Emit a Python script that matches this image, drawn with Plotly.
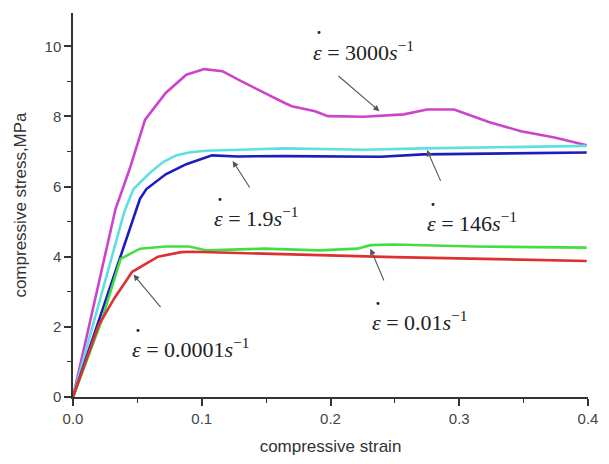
import plotly.graph_objects as go

# ---- data ----
x_3000 = [0, 0.033, 0.044, 0.056, 0.072, 0.088, 0.102, 0.116, 0.131, 0.143, 0.164, 0.170, 0.188, 0.198,
          0.226, 0.257, 0.275, 0.296, 0.323, 0.348, 0.374, 0.399]
y_3000 = [0, 5.36, 6.50, 7.91, 8.67, 9.19, 9.35, 9.29, 9.00, 8.77, 8.39, 8.29, 8.15, 8.01,
          7.99, 8.06, 8.20, 8.20, 7.84, 7.58, 7.40, 7.18]

x_146 = [0, 0.040, 0.047, 0.060, 0.070, 0.080, 0.090, 0.103, 0.164, 0.226, 0.272, 0.302, 0.399]
y_146 = [0, 5.30, 5.93, 6.40, 6.70, 6.89, 6.97, 7.02, 7.09, 7.05, 7.09, 7.11, 7.16]

x_19 = [0, 0.052, 0.057, 0.072, 0.088, 0.108, 0.128, 0.164, 0.239, 0.272, 0.399]
y_19 = [0, 5.65, 5.93, 6.35, 6.64, 6.89, 6.86, 6.87, 6.85, 6.92, 6.97]

x_001 = [0, 0.022, 0.037, 0.052, 0.072, 0.090, 0.104, 0.148, 0.191, 0.221, 0.231, 0.249, 0.312, 0.399]
y_001 = [0, 2.15, 3.94, 4.23, 4.29, 4.29, 4.18, 4.23, 4.18, 4.23, 4.33, 4.35, 4.29, 4.26]

x_00001 = [0, 0.020, 0.032, 0.046, 0.066, 0.084, 0.093, 0.150, 0.249, 0.399]
y_00001 = [0, 2.05, 2.81, 3.57, 4.00, 4.13, 4.14, 4.08, 3.99, 3.88]

labels = ["3000", "146", "1.9", "0.01", "0.0001"]
# label left edge / vertical centre and arrow tail -> tip, in data units
label_pos = [(0.1851, 9.87), (0.2735, 4.99), (0.1082, 5.13), (0.2309, 2.16), (0.0442, 1.39)]
arrow_tail = [(0.205, 9.19), (0.286, 6.12), (0.138, 5.93), (0.242, 3.28), (0.069, 2.52)]
arrow_tip = [(0.238, 8.15), (0.275, 7.04), (0.124, 6.73), (0.231, 4.23), (0.047, 3.49)]

x_ticks = [0.0, 0.1, 0.2, 0.3, 0.4]
y_ticks = [0, 2, 4, 6, 8, 10]

series = [
    (x_3000, y_3000, "#cc44cc"),
    (x_146, y_146, "#5fe0e0"),
    (x_19, y_19, "#1c1cc0"),
    (x_001, y_001, "#44dd44"),
    (x_00001, y_00001, "#dd3030"),
]

# layout geometry (px) used to offset the "dot" of epsilon-dot
L, R, T, B, W, H = 73, 11, 13, 65, 609, 464
XR, YR = (0, 0.4), (0, 10.95)
px_x = (XR[1] - XR[0]) / (W - L - R)
px_y = (YR[1] - YR[0]) / (H - T - B)

fig = go.Figure()
for xs, ys, c in series:
    fig.add_trace(go.Scatter(x=xs, y=ys, mode="lines", line=dict(color=c, width=2.6),
                             showlegend=False, hoverinfo="skip"))

anns = []
for lab, (lx, ly), (tx, ty), (hx, hy) in zip(labels, label_pos, arrow_tail, arrow_tip):
    anns.append(dict(x=hx, y=hy, ax=tx, ay=ty, xref="x", yref="y", axref="x", ayref="y",
                     text="", showarrow=True, arrowhead=2, arrowsize=1.1, arrowwidth=1.1,
                     arrowcolor="#555555"))
    anns.append(dict(x=lx, y=ly, xref="x", yref="y", showarrow=False,
                     text="<i>\u03b5</i> = " + lab + "<i>s</i><sup>\u22121</sup>",
                     font=dict(family="Liberation Serif", size=22, color="#222222"),
                     xanchor="left", yanchor="middle"))
    anns.append(dict(x=lx + 8 * px_x, y=ly + 18 * px_y, xref="x", yref="y", showarrow=False,
                     text="\u2022", font=dict(family="DejaVu Sans", size=10, color="#222222"),
                     xanchor="center", yanchor="middle", borderpad=0))

fig.update_layout(
    width=W, height=H,
    margin=dict(l=L, r=R, t=T, b=B),
    paper_bgcolor="white", plot_bgcolor="white",
    annotations=anns,
    xaxis=dict(range=list(XR), tickvals=x_ticks, ticktext=[f"{v:.1f}" for v in x_ticks],
               showgrid=False, zeroline=False, showline=True, linecolor="#333333", linewidth=1.5,
               ticks="outside", ticklen=7, tickwidth=1.5, tickcolor="#333333",
               minor=dict(dtick=0.05, tick0=0, ticks="outside", ticklen=4, tickwidth=1.3, tickcolor="#333333"),
               tickfont=dict(family="Liberation Sans", size=15, color="#444444"),
               title=dict(text="compressive strain", font=dict(family="Liberation Sans", size=17, color="#333333"),
                          standoff=14)),
    yaxis=dict(range=list(YR), tickvals=y_ticks,
               showgrid=False, zeroline=False, showline=True, linecolor="#333333", linewidth=1.5,
               ticks="outside", ticklen=7, tickwidth=1.5, tickcolor="#333333",
               minor=dict(dtick=1, tick0=0, ticks="outside", ticklen=4, tickwidth=1.3, tickcolor="#333333"),
               tickfont=dict(family="Liberation Sans", size=15, color="#444444"),
               title=dict(text="compressive stress,MPa", font=dict(family="Liberation Sans", size=17, color="#333333"),
                          standoff=14)),
)

fig.write_html("out.html")
